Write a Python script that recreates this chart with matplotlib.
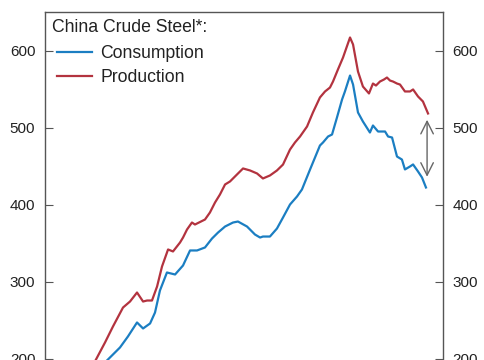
import matplotlib
matplotlib.use("Agg")
import matplotlib.pyplot as plt

plt.rcParams['font.family'] = ['Liberation Sans', 'DejaVu Sans']

# Production (red) – year, value
prod_x = [2002.70, 2003.27, 2003.77, 2004.27, 2004.90, 2005.34, 2005.78, 2006.16, 2006.41, 2006.72,
          2007.04, 2007.35, 2007.73, 2008.04, 2008.48, 2008.67, 2008.92, 2009.23, 2009.42, 2010.05,
          2010.36, 2010.68, 2010.99, 2011.31, 2011.62, 2012.06, 2012.44, 2012.88, 2013.32, 2013.69,
          2014.13, 2014.57, 2014.95, 2015.39, 2015.70, 2016.02, 2016.46, 2016.83, 2017.27, 2017.59,
          2017.90, 2018.09, 2018.40, 2018.72, 2019.16, 2019.35, 2019.66, 2019.97, 2020.35, 2020.60,
          2020.79, 2021.04, 2021.29, 2021.48, 2021.67, 2021.86, 2022.11, 2022.30, 2022.61, 2022.93,
          2023.12, 2023.43, 2023.74, 2024.06]
prod_y = [179.2, 201.3, 220.8, 241.6, 266.2, 274.0, 285.7, 274.0, 275.3, 275.3,
          293.5, 319.5, 341.6, 339.0, 350.6, 357.1, 367.5, 376.6, 374.0, 380.5,
          389.6, 402.6, 413.0, 426.0, 429.9, 439.0, 446.8, 444.2, 440.3, 433.8,
          437.7, 444.2, 451.9, 471.4, 480.5, 488.3, 501.3, 519.5, 539.0, 546.8,
          551.9, 559.7, 575.3, 590.9, 616.9, 607.8, 572.7, 553.2, 544.2, 557.1,
          554.5, 559.7, 562.3, 564.9, 561.0, 559.7, 557.1, 555.8, 546.8, 546.8,
          549.4, 540.3, 533.8, 518.2]

# Consumption (blue) – year, value
cons_x = [2003.45, 2004.08, 2004.71, 2005.21, 2005.78, 2006.16, 2006.60, 2006.91, 2007.22, 2007.66,
          2008.17, 2008.67, 2009.11, 2009.55, 2010.05, 2010.49, 2010.87, 2011.31, 2011.81, 2012.12,
          2012.69, 2013.19, 2013.51, 2013.69, 2014.13, 2014.57, 2014.95, 2015.39, 2015.83, 2016.14,
          2016.65, 2017.27, 2017.46, 2017.78, 2018.03, 2018.34, 2018.66, 2018.84, 2019.16, 2019.35,
          2019.66, 2019.97, 2020.41, 2020.60, 2020.92, 2021.36, 2021.55, 2021.80, 2022.11, 2022.42,
          2022.61, 2022.93, 2023.12, 2023.43, 2023.68, 2023.93]
cons_y = [188.3, 201.3, 214.3, 228.6, 246.8, 239.0, 245.5, 259.7, 288.3, 311.7,
          309.1, 320.8, 340.3, 340.3, 344.2, 355.8, 363.6, 371.4, 376.6, 377.9,
          371.4, 361.0, 357.1, 358.4, 358.4, 368.8, 383.1, 400.0, 410.4, 419.5,
          445.5, 476.6, 480.5, 488.3, 490.9, 513.0, 536.4, 546.8, 567.5, 555.8,
          519.5, 507.8, 493.5, 502.6, 494.8, 494.8, 488.3, 487.0, 462.3, 458.4,
          445.5, 449.4, 452.0, 442.9, 435.1, 422.1]

gap_x = 2024.0
gap_top = 510
gap_bottom = 436

y_ticks = [0, 100, 200, 300, 400, 500, 600]

fig = plt.figure(figsize=(4.85, 3.60), dpi=100)
H = 360.0
W = 485.0
ax_top_px = 12
ax_h_px = 650 * 0.77
ax = fig.add_axes([45 / W, (H - ax_top_px - ax_h_px) / H, 398 / W, ax_h_px / H])

def ay(px):
    return (ax_top_px + ax_h_px - px) / ax_h_px

def axx(px):
    return (px - 45) / 398.0

blue = '#1b7ec2'
red = '#b3333f'
ax.plot(cons_x, cons_y, color=blue, lw=1.6, label='Consumption')
ax.plot(prod_x, prod_y, color=red, lw=1.6, label='Production')

ax.annotate('', xy=(gap_x, gap_bottom), xytext=(gap_x, gap_top),
            arrowprops=dict(arrowstyle='<->,head_length=0.6,head_width=0.3',
                            mutation_scale=15, color='#666666', lw=1.0,
                            shrinkA=0, shrinkB=0))

ax.set_xlim(2000, 2025)
ax.set_ylim(0, 650)
ax.set_yticks(y_ticks)
ax.set_xticks([])
ax.tick_params(axis='y', direction='in', length=5.5, width=0.8, color='#555555',
               labelsize=11, left=True, right=True, labelleft=True, labelright=True,
               pad=7, labelcolor='#222222')
for s in ax.spines.values():
    s.set_color('#555555')
    s.set_linewidth(1.0)

ax.text(axx(52), ay(27), 'China Crude Steel*:', transform=ax.transAxes,
        ha='left', va='center', fontsize=12.7, color='#222222')

leg = ax.legend(loc='upper left', frameon=False, fontsize=12.7,
                handlelength=2.0, handletextpad=0.45, labelspacing=0.40,
                borderaxespad=0.0, borderpad=0.0,
                bbox_to_anchor=(axx(57), ay(45)))
for t in leg.get_texts():
    t.set_color('#222222')

fig.savefig('out.png', dpi=100)
